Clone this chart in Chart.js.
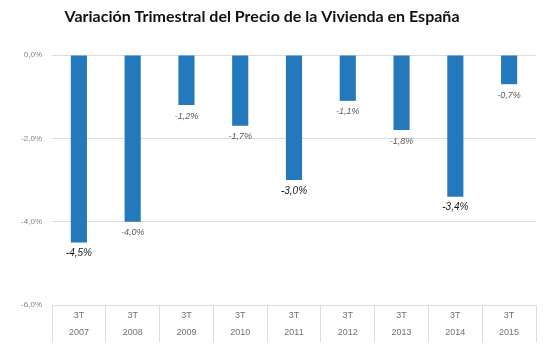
<!DOCTYPE html>
<html>
<head>
<meta charset="utf-8">
<script src="https://cdn.jsdelivr.net/npm/chart.js@4/dist/chart.umd.min.js"></script>
<style>
  html, body { margin: 0; padding: 0; background: #fff; }
  #wrap { width: 549px; height: 350px; position: relative; }
</style>
</head>
<body>
<div id="wrap"><canvas id="c"></canvas></div>
<script>
const chartTitle = 'Variación Trimestral del Precio de la Vivienda en España';
const quarters = ['3T', '3T', '3T', '3T', '3T', '3T', '3T', '3T', '3T'];
const years = ['2007', '2008', '2009', '2010', '2011', '2012', '2013', '2014', '2015'];
const variation = [-4.5, -4.0, -1.2, -1.7, -3.0, -1.1, -1.8, -3.4, -0.7];
const yTicks = [0, -2, -4, -6];

const emphasised = new Set([0, 4, 7]);

function fmt(v) {
  return v.toFixed(1).replace('.', ',') + '%';
}

const labelsPlugin = {
  id: 'valueLabels',
  afterDatasetsDraw(chart) {
    const ctx = chart.ctx;
    const meta = chart.getDatasetMeta(0);
    ctx.save();
    ctx.textAlign = 'center';
    ctx.textBaseline = 'middle';
    meta.data.forEach((bar, i) => {
      const v = variation[i];
      if (emphasised.has(i)) {
        ctx.font = 'italic 10px "Liberation Sans", Arial, sans-serif';
        ctx.fillStyle = '#1a1a1a';
      } else {
        ctx.font = 'italic 9px "Liberation Sans", Arial, sans-serif';
        ctx.fillStyle = '#5a5a5a';
      }
      ctx.fillText(fmt(v), bar.x, bar.y + 11);
    });
    ctx.restore();
  }
};

const titlePlugin = {
  id: 'customTitle',
  afterDraw(chart) {
    const ctx = chart.ctx;
    ctx.save();
    ctx.font = 'bold 16px Lato, "DejaVu Sans", sans-serif';
    ctx.fillStyle = '#111';
    ctx.textAlign = 'center';
    ctx.textBaseline = 'alphabetic';
    ctx.fillText(chartTitle, 262, 22);
    ctx.restore();
  }
};

new Chart(document.getElementById('c'), {
  type: 'bar',
  data: {
    labels: quarters.map((q, i) => [q, years[i]]),
    datasets: [{
      data: variation,
      backgroundColor: '#2479bd',
      borderWidth: 0,
      barPercentage: 0.3,
      categoryPercentage: 1.0
    }]
  },
  options: {
    responsive: true,
    maintainAspectRatio: false,
    animation: false,
    devicePixelRatio: 1,
    layout: { padding: { top: 55, right: 13, bottom: 0, left: 0 } },
    plugins: {
      legend: { display: false },
      tooltip: { enabled: false },
      title: { display: false }
    },
    scales: {
      x: {
        afterFit(scale) { scale.height = 45; },
        grid: {
          offset: true,
          drawOnChartArea: false,
          drawTicks: true,
          tickLength: 37,
          color: '#dcdcdc',
          lineWidth: 1
        },
        border: { display: true, color: '#dcdcdc' },
        ticks: {
          padding: -35,
          color: '#707070',
          font: { family: '"Liberation Sans", Arial, sans-serif', size: 9, lineHeight: '17px' },
          maxRotation: 0
        }
      },
      y: {
        min: -6,
        max: 0,
        afterFit(scale) { scale.width = 52; },
        afterBuildTicks(scale) { scale.ticks = yTicks.map(v => ({ value: v })); },
        grid: {
          drawTicks: false,
          color: '#dcdcdc',
          lineWidth: 1
        },
        border: { display: false },
        ticks: {
          padding: 10,
          color: '#808080',
          font: { family: '"Liberation Sans", Arial, sans-serif', size: 8 },
          callback: (v) => fmt(v)
        }
      }
    }
  },
  plugins: [labelsPlugin, titlePlugin]
});
</script>
</body>
</html>
